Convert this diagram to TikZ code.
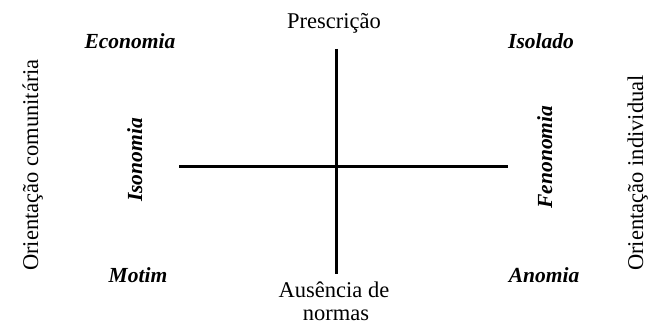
\documentclass[tikz,border=0pt]{standalone}
\usepackage{fontspec}
\setmainfont{Liberation Serif}
\begin{document}
\begin{tikzpicture}[x=1pt,y=1pt,
  lab/.style={inner sep=0pt, font=\fontsize{22.5}{26}\selectfont},
  ital/.style={inner sep=0pt, font=\fontsize{21.5}{24}\selectfont\bfseries\itshape},
  axis/.style={line width=3pt}]
\useasboundingbox (0,0) rectangle (650,324);
% axes
\coordinate (vt) at (336,275);
\coordinate (vb) at (336,50);
\coordinate (hl) at (179,157);
\coordinate (hr) at (508,157);
\draw[axis] (vt) -- (vb);
\draw[axis] (hl) -- (hr);
% axis labels
\node[lab, anchor=base] (pres) at (334,295) {Prescrição};
\node[lab, anchor=base] (aus1) at (334,27) {Ausência de};
\node[lab, anchor=base] (aus2) at (336,4) {normas};
\node[lab, anchor=base, rotate=90] (oc) at (38,159) {Orientação comunitária};
\node[lab, anchor=base, rotate=90] (oi) at (643,151) {Orientação individual};
% quadrant labels
\node[ital, anchor=base] (eco) at (130,275) {Economia};
\node[ital, anchor=base] (iso) at (541,275) {Isolado};
\node[ital, anchor=base] (mot) at (138,42) {Motim};
\node[ital, anchor=base] (ano) at (544,42) {Anomia};
\node[ital, anchor=base, rotate=90] (ison) at (142,164) {Isonomia};
\node[ital, anchor=base, rotate=90] (fen) at (552,167) {Fenonomia};
\end{tikzpicture}
\end{document}
